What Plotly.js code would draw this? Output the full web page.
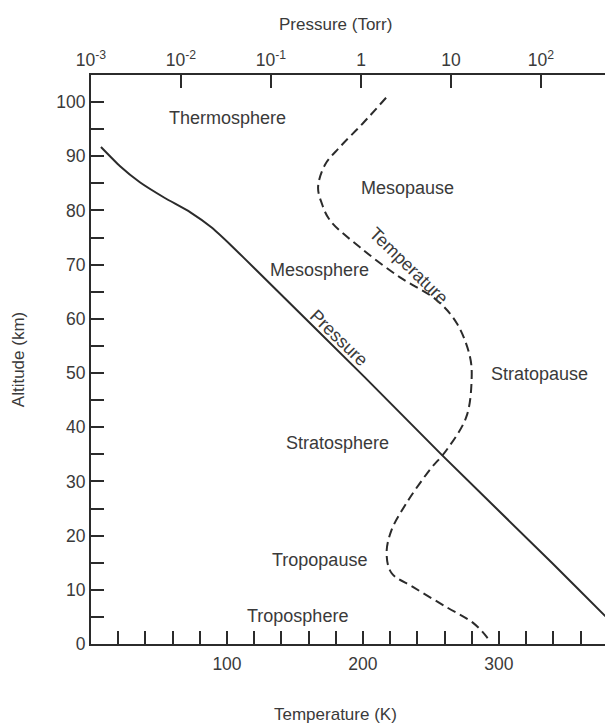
<!DOCTYPE html>
<html>
<head>
<meta charset="utf-8">
<script src="https://cdn.plot.ly/plotly-3.0.1.min.js"></script>
<style>html,body{margin:0;padding:0;background:#fff;overflow:hidden;}#chart{width:605px;height:724px;}</style>
</head>
<body>
<div id="chart"></div>
<script>
// Temperature profile (dashed): altitude (km) and temperature (K)
const temperatureAltitudeKm = [100.8, 96.1, 91.7, 88.4, 84.3, 81.4, 78.2, 73.2, 67.7, 63.5, 59.2, 53.0, 48.7, 41.9, 35.8, 32.1, 26.0, 21.0, 16.8, 13.1, 10.5, 6.8, 3.9, 1.3, 0.4];
const temperatureK = [217, 200, 183, 172, 167, 169.6, 175.7, 197.8, 227, 254, 269, 278.7, 279.9, 276, 261.5, 249, 232, 221, 217.4, 221, 237, 261.5, 281, 291, 293];

// Pressure profile (solid): altitude (km) and pressure (Torr)
const pressureAltitudeKm = [91.7, 88.2, 85.2, 82.3, 79.7, 76.8, 73.4, 69.2, 49.3, 34.8, 15.0, 5.2, 3.5];
const pressureTorr = [0.00129, 0.00209, 0.00349, 0.00662, 0.0126, 0.0221, 0.0368, 0.0667, 1.09, 8.0, 132, 514, 655];

// Axis ticks
const temperatureTickVals = [20, 40, 60, 80, 100, 120, 140, 160, 180, 200, 220, 240, 260, 280, 300, 320, 340, 360];
const temperatureTickText = ['', '', '', '', '100', '', '', '', '', '200', '', '', '', '', '300', '', '', ''];
const pressureTickVals = [0.001, 0.01, 0.1, 1, 10, 100];
const pressureTickText = ['10<sup>-3</sup>', '10<sup>-2</sup>', '10<sup>-1</sup>', '1', '10', '10<sup>2</sup>'];
const altitudeTickVals = [0, 5, 10, 15, 20, 25, 30, 35, 40, 45, 50, 55, 60, 65, 70, 75, 80, 85, 90, 95, 100];
const altitudeTickText = ['0', '', '10', '', '20', '', '30', '', '40', '', '50', '', '60', '', '70', '', '80', '', '90', '', '100'];

// Text labels
const regionLabels = ['Thermosphere', 'Mesopause', 'Mesosphere', 'Stratopause', 'Stratosphere', 'Tropopause', 'Troposphere'];
const curveLabels = ['Temperature', 'Pressure'];
const axisTitles = {temperature: 'Temperature (K)', pressure: 'Pressure (Torr)', altitude: 'Altitude (km)'};

const ink = '#2b2b2b';
const textInk = '#3a3a3a';
const fam = 'Arial, "Liberation Sans", sans-serif';
const tickFont = {family: fam, size: 17.5, color: textInk};
const labelFont = {family: fam, size: 18, color: textInk};
const titleFont = {family: fam, size: 17, color: textInk};

const traces = [
  {
    x: temperatureK, y: temperatureAltitudeKm, xaxis: 'x', yaxis: 'y',
    mode: 'lines', line: {color: ink, width: 2, dash: '9px,5px', shape: 'spline', smoothing: 1},
    hoverinfo: 'skip', showlegend: false
  },
  {
    x: pressureTorr, y: pressureAltitudeKm, xaxis: 'x2', yaxis: 'y',
    mode: 'lines', line: {color: ink, width: 2, shape: 'spline', smoothing: 0.5},
    hoverinfo: 'skip', showlegend: false
  }
];

const axisCommon = {
  showgrid: false, zeroline: false, showline: true, linecolor: ink, linewidth: 2,
  ticks: 'inside', ticklen: 13, tickwidth: 2, tickcolor: ink, tickfont: tickFont
};

const regionAnnotations = [
  {x: 100.7, y: 97.0, text: regionLabels[0]},
  {x: 233, y: 84.1, text: regionLabels[1]},
  {x: 168.4, y: 69.0, text: regionLabels[2]},
  {x: 330, y: 49.8, text: regionLabels[3]},
  {x: 181.6, y: 37.1, text: regionLabels[4]},
  {x: 168.4, y: 15.5, text: regionLabels[5]},
  {x: 151.5, y: 5.2, text: regionLabels[6]},
  {x: 233.8, y: 69.7, text: curveLabels[0], textangle: 44},
  {x: 182.4, y: 56.5, text: curveLabels[1], textangle: 44}
].map(a => Object.assign({xref: 'x', yref: 'y', showarrow: false, font: labelFont, xanchor: 'center', yanchor: 'middle'}, a));

const titleAnnotations = [
  {x: 0.475, y: 1.089, text: axisTitles.pressure},
  {x: 0.475, y: -0.124, text: axisTitles.temperature}
].map(a => Object.assign({xref: 'paper', yref: 'paper', showarrow: false, font: titleFont, xanchor: 'center', yanchor: 'middle'}, a));

const layout = {
  width: 605, height: 724,
  margin: {l: 91, r: 0, t: 75, b: 80, pad: 0},
  paper_bgcolor: '#fff', plot_bgcolor: '#fff',
  font: tickFont,
  xaxis: Object.assign({}, axisCommon, {
    range: [0, 378], tickmode: 'array', tickvals: temperatureTickVals, ticktext: temperatureTickText,
    ticklabelstandoff: 3, anchor: 'y', side: 'bottom'
  }),
  xaxis2: Object.assign({}, axisCommon, {
    type: 'log', range: [-3, 2.711], overlaying: 'x', side: 'top', anchor: 'y',
    tickmode: 'array', tickvals: pressureTickVals, ticktext: pressureTickText
  }),
  yaxis: Object.assign({}, axisCommon, {
    range: [0, 105], tickmode: 'array', tickvals: altitudeTickVals, ticktext: altitudeTickText,
    title: {text: axisTitles.altitude, font: titleFont, standoff: 27}
  }),
  annotations: regionAnnotations.concat(titleAnnotations)
};

Plotly.newPlot('chart', traces, layout, {staticPlot: true, displayModeBar: false});
</script>
</body>
</html>
